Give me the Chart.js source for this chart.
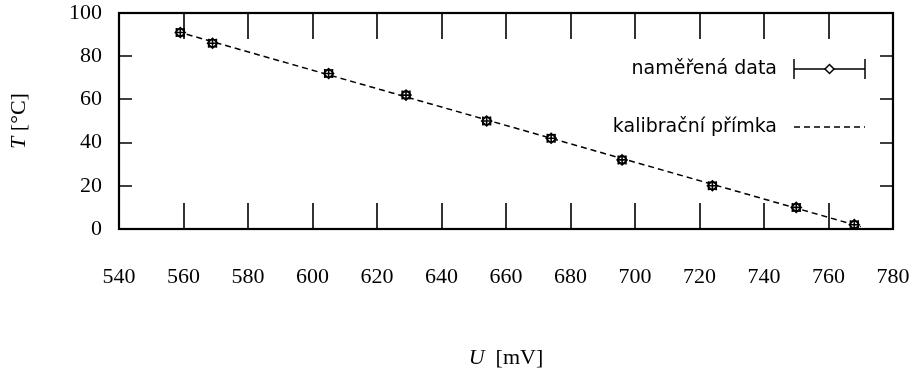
<!DOCTYPE html>
<html>
<head>
<meta charset="utf-8">
<script src="https://cdn.jsdelivr.net/npm/chart.js@4/dist/chart.umd.min.js"></script>
<style>
  html, body { margin: 0; padding: 0; background: #fff; }
  #wrap { width: 919px; height: 389px; }
</style>
</head>
<body>
<div id="wrap"><canvas id="calChart"></canvas></div>
<script>
/* ── DATA ───────────────────────────────────────────────────── */
const voltage     = [559, 569, 605, 629, 654, 674, 696, 724, 750, 768];   // U [mV]
const temperature = [91, 86, 72, 62, 50, 42, 32, 20, 10, 2];              // T [°C]
const voltageErr  = [1.2, 1.2, 1.2, 1.2, 1.2, 1.2, 1.2, 1.2, 1.2, 1.2];
const tempErr     = [1.6, 1.6, 1.6, 1.6, 1.6, 1.6, 1.6, 1.6, 1.6, 1.6];
const fitVoltage  = [558, 770];
const fitTemp     = [91.4, 1.1];
const seriesNames = ['naměřená data', 'kalibrační přímka'];

const SERIF = '"Liberation Serif", "DejaVu Serif", serif';
const SANS  = '"DejaVu Sans", sans-serif';

/* ── FRAME + INWARD TICKS ───────────────────────────────────── */
const framePlugin = {
  id: 'frame',
  afterDraw(chart) {
    const { ctx, chartArea: a, scales: { x, y } } = chart;
    ctx.save();
    ctx.strokeStyle = '#000';
    ctx.lineWidth = 1.6;
    ctx.beginPath();
    x.ticks.forEach(t => {
      const px = Math.round(x.getPixelForValue(t.value));
      ctx.moveTo(px, a.bottom); ctx.lineTo(px, a.bottom - 26);
      ctx.moveTo(px, a.top);    ctx.lineTo(px, a.top + 26);
    });
    y.ticks.forEach(t => {
      const py = Math.round(y.getPixelForValue(t.value));
      ctx.moveTo(a.left, py);  ctx.lineTo(a.left + 13, py);
      ctx.moveTo(a.right, py); ctx.lineTo(a.right - 13, py);
    });
    ctx.stroke();
    ctx.lineWidth = 2.2;
    ctx.strokeRect(a.left, a.top, a.right - a.left, a.bottom - a.top);
    ctx.restore();
  }
};

/* ── ERROR BARS ─────────────────────────────────────────────── */
const errorBarPlugin = {
  id: 'errorbars',
  afterDatasetsDraw(chart) {
    const { ctx, scales: { x, y } } = chart;
    const cap = 4.5;
    ctx.save();
    ctx.strokeStyle = '#000';
    ctx.lineWidth = 1.6;
    ctx.beginPath();
    voltage.forEach((u, i) => {
      const px = x.getPixelForValue(u), py = y.getPixelForValue(temperature[i]);
      const x0 = x.getPixelForValue(u - voltageErr[i]), x1 = x.getPixelForValue(u + voltageErr[i]);
      const y0 = y.getPixelForValue(temperature[i] - tempErr[i]), y1 = y.getPixelForValue(temperature[i] + tempErr[i]);
      ctx.moveTo(x0, py); ctx.lineTo(x1, py);
      ctx.moveTo(x0, py - cap); ctx.lineTo(x0, py + cap);
      ctx.moveTo(x1, py - cap); ctx.lineTo(x1, py + cap);
      ctx.moveTo(px, y0); ctx.lineTo(px, y1);
      ctx.moveTo(px - cap, y0); ctx.lineTo(px + cap, y0);
      ctx.moveTo(px - cap, y1); ctx.lineTo(px + cap, y1);
    });
    ctx.stroke();
    ctx.restore();
  }
};

/* ── KEY (gnuplot style, text left of sample) ───────────────── */
const keyPlugin = {
  id: 'key',
  afterDraw(chart) {
    const { ctx, chartArea: a } = chart;
    const textRight = a.right - 116, s0 = a.right - 99, s1 = a.right - 28;
    const rows = [a.top + 56, a.top + 114];
    ctx.save();
    ctx.fillStyle = '#000';
    ctx.strokeStyle = '#000';
    ctx.font = '19px ' + SANS;
    ctx.textAlign = 'right';
    ctx.textBaseline = 'middle';
    ctx.fillText(seriesNames[0], textRight, rows[0]);
    ctx.fillText(seriesNames[1], textRight, rows[1]);

    // row 1: error bar sample with diamond
    ctx.lineWidth = 1.5;
    ctx.beginPath();
    ctx.moveTo(s0, rows[0]); ctx.lineTo(s1, rows[0]);
    ctx.moveTo(s0, rows[0] - 10); ctx.lineTo(s0, rows[0] + 10);
    ctx.moveTo(s1, rows[0] - 10); ctx.lineTo(s1, rows[0] + 10);
    ctx.stroke();
    const cx = (s0 + s1) / 2, r = 4.5;
    ctx.beginPath();
    ctx.moveTo(cx, rows[0] - r); ctx.lineTo(cx + r, rows[0]);
    ctx.lineTo(cx, rows[0] + r); ctx.lineTo(cx - r, rows[0]); ctx.closePath();
    ctx.fillStyle = '#fff';
    ctx.fill();
    ctx.stroke();

    // row 2: dashed sample
    ctx.lineWidth = 1.5;
    ctx.setLineDash([6, 4]);
    ctx.beginPath();
    ctx.moveTo(s0, rows[1]); ctx.lineTo(s1, rows[1]);
    ctx.stroke();
    ctx.restore();
  }
};

/* ── AXIS TITLES (italic symbol + upright unit) ─────────────── */
function drawMixed(ctx, sym, rest, cx, cy) {
  const fi = 'italic 22px ' + SERIF, fu = '22px ' + SERIF;
  ctx.font = fi; const w1 = ctx.measureText(sym).width;
  ctx.font = fu; const w2 = ctx.measureText(rest).width;
  const x0 = cx - (w1 + w2) / 2;
  ctx.textAlign = 'left';
  ctx.textBaseline = 'middle';
  ctx.font = fi; ctx.fillText(sym, x0, cy);
  ctx.font = fu; ctx.fillText(rest, x0 + w1, cy);
}

const titlesPlugin = {
  id: 'titles',
  afterDraw(chart) {
    const { ctx, chartArea: a } = chart;
    ctx.save();
    ctx.fillStyle = '#000';
    drawMixed(ctx, 'U', '  [mV]', (a.left + a.right) / 2, 358);
    ctx.translate(19, (a.top + a.bottom) / 2);
    ctx.rotate(-Math.PI / 2);
    drawMixed(ctx, 'T', ' [°C]', 0, 0);
    ctx.restore();
  }
};

function noPad(s) {
  s.paddingLeft = 0; s.paddingRight = 0; s.paddingTop = 0; s.paddingBottom = 0;
}

/* ── CHART ──────────────────────────────────────────────────── */
const ctx = document.getElementById('calChart').getContext('2d');
new Chart(ctx, {
  type: 'scatter',
  data: {
    datasets: [{
      label: seriesNames[0],
      data: voltage.map((u, i) => ({ x: u, y: temperature[i] })),
      pointStyle: 'rectRot',
      pointRadius: 5,
      borderColor: '#000',
      backgroundColor: '#fff',
      borderWidth: 1.5,
      showLine: false,
      order: 0
    }, {
      label: seriesNames[1],
      type: 'line',
      data: fitVoltage.map((u, i) => ({ x: u, y: fitTemp[i] })),
      borderColor: '#000',
      borderWidth: 1.5,
      borderDash: [6, 4],
      pointRadius: 0,
      fill: false,
      order: 1
    }]
  },
  options: {
    responsive: true,
    maintainAspectRatio: false,
    animation: false,
    layout: { padding: { top: 13, right: 26, bottom: 0, left: 0 } },
    plugins: { legend: { display: false }, tooltip: { enabled: false } },
    scales: {
      x: {
        type: 'linear', min: 540, max: 780,
        ticks: { stepSize: 20, padding: 27, color: '#000', font: { family: SERIF, size: 22 } },
        grid: { display: false },
        border: { display: false },
        afterFit: s => { s.height = 160; noPad(s); }
      },
      y: {
        min: 0, max: 100,
        ticks: { stepSize: 20, padding: 9, color: '#000', font: { family: SERIF, size: 22 } },
        grid: { display: false },
        border: { display: false },
        afterFit: s => { s.width = 119; noPad(s); }
      }
    }
  },
  plugins: [framePlugin, errorBarPlugin, keyPlugin, titlesPlugin]
});
</script>
</body>
</html>
